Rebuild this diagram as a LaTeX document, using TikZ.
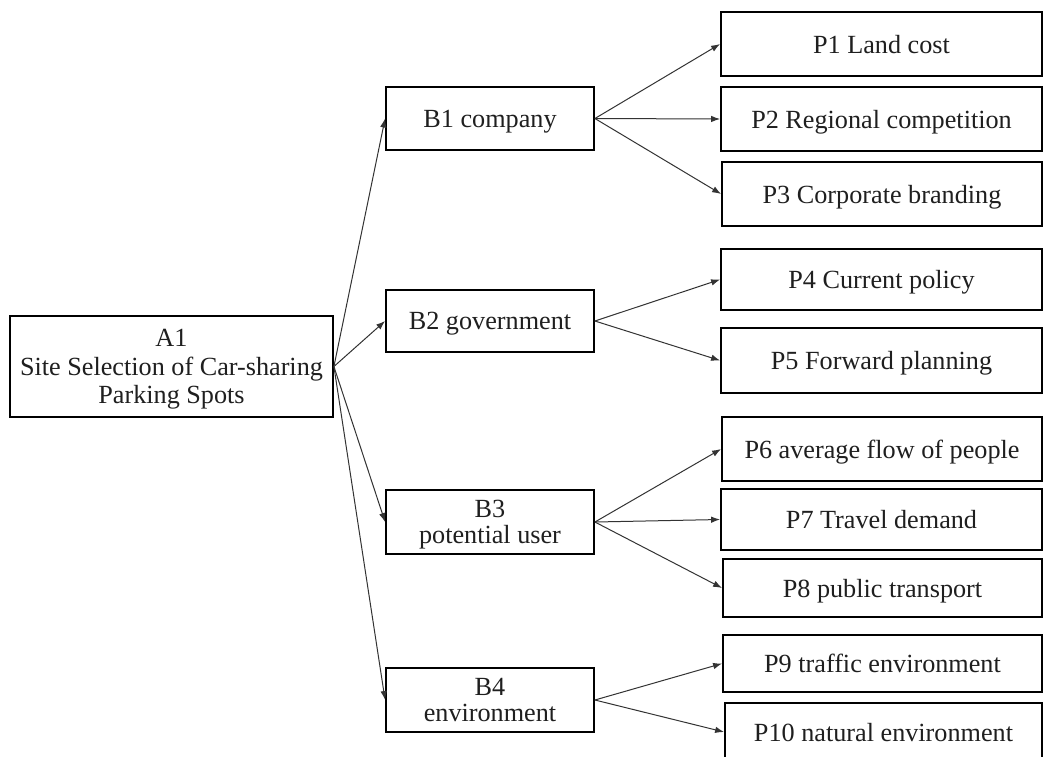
\documentclass[tikz,border=0pt]{standalone}
\usepackage{fontspec}
\setmainfont{Liberation Serif}
\usetikzlibrary{arrows.meta}
\begin{document}
\begin{tikzpicture}[x=1pt,y=-1pt,
  box/.style={draw=black,line width=1.8pt,rectangle,inner sep=0pt,align=center,
    text depth=0pt,font=\fontsize{26.2}{28.5}\selectfont,text=black!88},
  conn/.style={draw=black!80,line width=1pt,-{Latex[length=9pt,width=6.5pt]}}]
\useasboundingbox (0,0) rectangle (1043,756);
\clip (0,0) rectangle (1043,756);
\fill[white] (0,0) rectangle (1043,756);
% level A
\node[box,minimum width=323pt,minimum height=101pt] (A1) at (171.5,366.5)
  {A1\\Site Selection of Car-sharing\\Parking Spots};
% level B
\node[box,minimum width=208pt,minimum height=63pt] (B1) at (490,118.5) {B1 company};
\node[box,minimum width=208pt,minimum height=62pt] (B2) at (490,321) {B2 government};
\node[box,minimum width=208pt,minimum height=64pt] (B3) at (490,522) {B3\\[-2pt]potential user};
\node[box,minimum width=208pt,minimum height=64pt] (B4) at (490,700) {B4\\[-2pt]environment};
% level P
\node[box,minimum width=321pt,minimum height=64pt] (P1) at (881.5,44) {P1 Land cost};
\node[box,minimum width=321pt,minimum height=64pt] (P2) at (881.5,119) {P2 Regional competition};
\node[box,minimum width=320pt,minimum height=64pt] (P3) at (882,194) {P3 Corporate branding};
\node[box,minimum width=321pt,minimum height=61pt] (P4) at (881.5,279.5) {P4 Current policy};
\node[box,minimum width=321pt,minimum height=65pt] (P5) at (881.5,360.5) {P5 Forward planning};
\node[box,minimum width=320pt,minimum height=64pt] (P6) at (882,449) {P6 average flow of people};
\node[box,minimum width=321pt,minimum height=61pt] (P7) at (881.5,519.5) {P7 Travel demand};
\node[box,minimum width=319pt,minimum height=58pt] (P8) at (882.5,588) {P8 public transport};
\node[box,minimum width=319pt,minimum height=57pt] (P9) at (882.5,663.5) {P9 traffic environment};
\node[box,minimum width=317pt,minimum height=58pt] (P10) at (883.5,732) {P10 natural environment};
% connectors
\foreach \b in {B1,B2,B3,B4} \draw[conn] (A1.east) -- (\b.west);
\foreach \p in {P1,P2,P3} \draw[conn] (B1.east) -- (\p.west);
\foreach \p in {P4,P5} \draw[conn] (B2.east) -- (\p.west);
\foreach \p in {P6,P7,P8} \draw[conn] (B3.east) -- (\p.west);
\foreach \p in {P9,P10} \draw[conn] (B4.east) -- (\p.west);
\end{tikzpicture}
\end{document}
